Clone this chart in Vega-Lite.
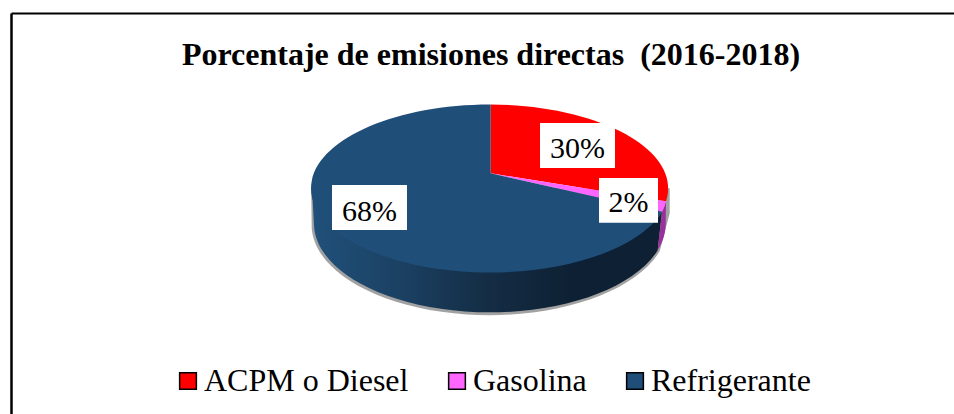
{"$schema":"https://vega.github.io/schema/vega-lite/v6.json","width":943,"height":401,"autosize":"none","padding":{"left":11,"top":13,"right":0,"bottom":0},"background":"white","view":{"stroke":null},
"title":{"text":"Porcentaje de emisiones directas \u00a0(2016-2018)","font":"Liberation Serif","fontSize":32,"fontWeight":"bold","color":"black","anchor":"middle","frame":"group","dx":8.5,"offset":-84,"baseline":"alphabetic"},
"data":{"values":[{"fuente":"ACPM o Diesel","valor":0.30},{"fuente":"Gasolina","valor":0.02},{"fuente":"Refrigerante","valor":0.68}]},
"encoding":{"x":{"datum":0,"type":"quantitative","scale":{"domain":[-479.7,463.3],"nice":false,"zero":false},"axis":{"orient":"top","ticks":false,"labels":false,"grid":false,"title":null,"domainColor":"black","domainWidth":2}},"y":{"datum":0,"type":"quantitative","scale":{"domain":[-240.7,160.3],"nice":false,"zero":false},"axis":{"orient":"left","ticks":false,"labels":false,"grid":false,"title":null,"domainColor":"black","domainWidth":2.5}}},
"layer":[
{"transform":[{"filter":"datum.fuente==='Refrigerante'"}],"mark":{"type":"point","filled":true,"opacity":0.55,"size":4,"fill":"#555555","strokeWidth":0,"shape":"M-179.5,15 L-179,55 A178,90.5 0 0 0 169,78 L179,40 L179,15 Z"}},
{"transform":[{"filter":"datum.fuente==='Refrigerante'"}],"mark":{"type":"point","filled":true,"opacity":1,"size":4,"strokeWidth":0,"fill":{"gradient":"linear","x1":0,"y1":0,"x2":1,"y2":0,"stops":[{"offset":0,"color":"#20507a"},{"offset":0.25,"color":"#1b4163"},{"offset":0.5,"color":"#142d45"},{"offset":0.75,"color":"#0e2033"},{"offset":1,"color":"#0e2033"}]},"shape":"M-178.7,15 A179,84 0 0 0 171.3,38.5 L167,77 A176,89 0 0 1 -176.7,52 Z"}},
{"transform":[{"filter":"datum.fuente==='Gasolina'"}],"mark":{"type":"point","filled":true,"opacity":1,"size":4,"strokeWidth":0,"fill":"#99309c","shape":"M175.3,28 A179,84 0 0 1 171.3,38.5 L167,77 A176,89 0 0 0 175,50 Z"}},
{"mark":{"type":"point","filled":true,"opacity":1,"size":4,"strokeWidth":0},"encoding":{"color":{"field":"fuente","type":"nominal","scale":{"domain":["ACPM o Diesel","Gasolina","Refrigerante"],"range":["#ff0000","#ff66ff","#1f4e79"]},"legend":{"title":null,"orient":"none","legendX":161,"legendY":352,"direction":"horizontal","columns":3,"gridAlign":"each","columnPadding":32,"symbolType":"square","symbolSize":280,"symbolStrokeColor":"black","symbolStrokeWidth":1.5,"symbolOpacity":1,"labelFont":"Liberation Serif","labelFontSize":32,"labelColor":"black","labelOffset":0,"labelLimit":400,"padding":0}},"shape":{"field":"fuente","type":"nominal","legend":null,"scale":{"domain":["ACPM o Diesel","Gasolina","Refrigerante"],"range":["M0,0 L0,-68.8 A179,84 0 0 1 175.3,28 Z","M0,0 L175.3,28 A179,84 0 0 1 171.3,38.5 Z","M0,0 L171.3,38.5 A179,84 0 1 1 0,-68.8 Z"]}}}},
{"mark":{"type":"point","filled":true,"opacity":1,"size":4,"strokeWidth":0,"fill":"white"},"encoding":{"shape":{"field":"fuente","type":"nominal","legend":null,"scale":{"domain":["ACPM o Diesel","Gasolina","Refrigerante"],"range":["M49.3,-50.3 H124.3 V-5.3 H49.3 Z","M108.3,4.7 H167.3 V49.4 H108.3 Z","M-158.7,11.7 H-83.7 V56.7 H-158.7 Z"]}}}},
{"transform":[{"filter":"datum.fuente==='ACPM o Diesel'"}],"mark":{"type":"text","font":"Liberation Serif","fontSize":30,"color":"black","align":"center","baseline":"alphabetic","dx":86.8,"dy":-15.3},"encoding":{"text":{"field":"valor","type":"quantitative","format":".0%"}}},
{"transform":[{"filter":"datum.fuente==='Gasolina'"}],"mark":{"type":"text","font":"Liberation Serif","fontSize":30,"color":"black","align":"center","baseline":"alphabetic","dx":137.8,"dy":38.7},"encoding":{"text":{"field":"valor","type":"quantitative","format":".0%"}}},
{"transform":[{"filter":"datum.fuente==='Refrigerante'"}],"mark":{"type":"text","font":"Liberation Serif","fontSize":30,"color":"black","align":"center","baseline":"alphabetic","dx":-121.2,"dy":47.7},"encoding":{"text":{"field":"valor","type":"quantitative","format":".0%"}}}
],
"resolve":{"scale":{"shape":"independent"}}}
